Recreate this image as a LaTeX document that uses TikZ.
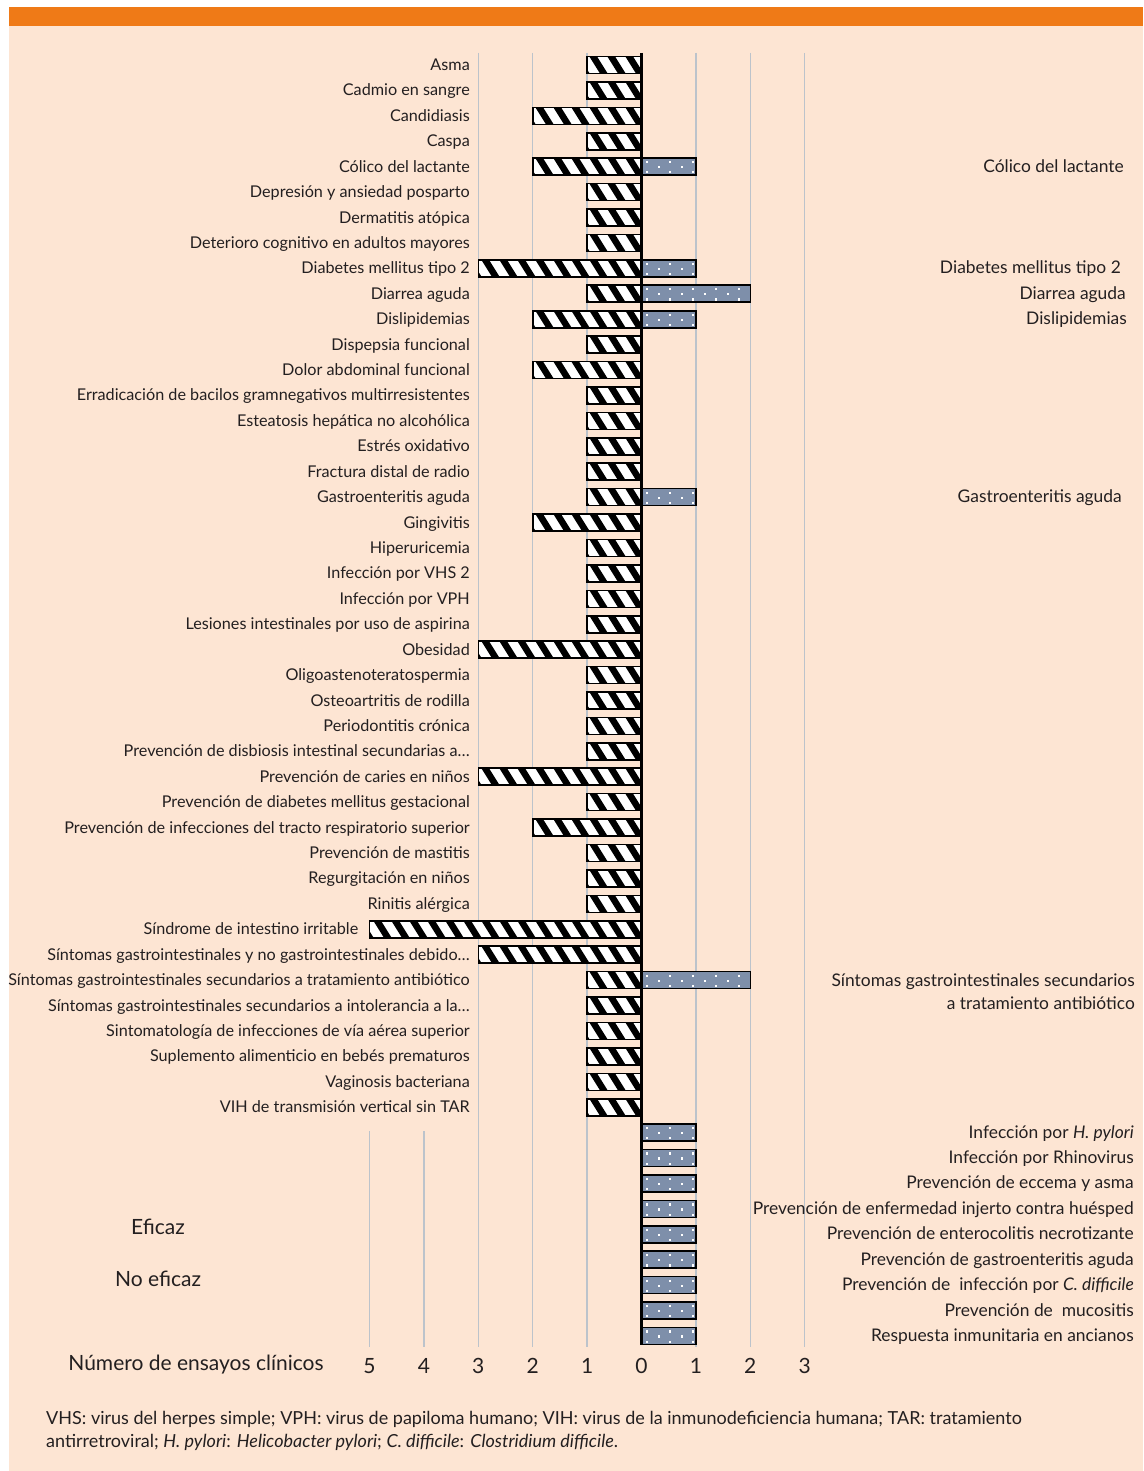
\documentclass[tikz,border=0pt]{standalone}
\usepackage{fontspec}
\setmainfont{Lato}
\definecolor{orangebar}{HTML}{EF7A17}
\definecolor{peach}{HTML}{FDE5D3}
\definecolor{barblue}{HTML}{7E8FAA}
\definecolor{gridc}{HTML}{BCC3CB}
\definecolor{txt}{HTML}{231F20}
\begin{document}
\begin{tikzpicture}[x=1pt,y=-1pt,
  lab/.style={inner sep=0pt, text height=11.5pt, text depth=3.5pt, font=\fontsize{16.2}{20}\selectfont, text=txt},
  rlab/.style={lab, font=\fontsize{17.4}{20}\selectfont},
  big/.style={inner sep=0pt, font=\fontsize{21}{24}\selectfont, text=txt},
  foot/.style={inner sep=0pt, font=\fontsize{18}{22}\selectfont, text=txt, anchor=base west},
  grid line/.style={gridc, line width=1.4pt},
  outline/.style={black, line width=1.6pt}]
\useasboundingbox (0,0) rectangle (1143,1471);
\fill[white] (0,0) rectangle (1143,1471);
\fill[peach] (9,7) rectangle (1143,1471);
\fill[orangebar] (9,7) rectangle (1143,26);
% grid lines
\foreach \g in {1,2,3} {
  \draw[grid line] ({641.5-54.4*\g},53) -- ({641.5-54.4*\g},1347);
  \draw[grid line] ({641.5+54.4*\g},53) -- ({641.5+54.4*\g},1347);
}
\foreach \g in {4,5} {
  \draw[grid line] ({641.5-54.4*\g},1131) -- ({641.5-54.4*\g},1347);
}
% not effective (hatched) bars and left labels
\foreach \i/\v/\t in {
 1/1/Asma,
 2/1/Cadmio en sangre,
 3/2/Candidiasis,
 4/1/Caspa,
 5/2/Cólico del lactante,
 6/1/Depresión y ansiedad posparto,
 7/1/Dermatitis atópica,
 8/1/Deterioro cognitivo en adultos mayores,
 9/3/Diabetes mellitus tipo 2,
 10/1/Diarrea aguda,
 11/2/Dislipidemias,
 12/1/Dispepsia funcional,
 13/2/Dolor abdominal funcional,
 14/1/Erradicación de bacilos gramnegativos multirresistentes,
 15/1/Esteatosis hepática no alcohólica,
 16/1/Estrés oxidativo,
 17/1/Fractura distal de radio,
 18/1/Gastroenteritis aguda,
 19/2/Gingivitis,
 20/1/Hiperuricemia,
 21/1/Infección por VHS 2,
 22/1/Infección por VPH,
 23/1/Lesiones intestinales por uso de aspirina,
 24/3/Obesidad,
 25/1/Oligoastenoteratospermia,
 26/1/Osteoartritis de rodilla,
 27/1/Periodontitis crónica,
 28/1/Prevención de disbiosis intestinal secundarias a…,
 29/3/Prevención de caries en niños,
 30/1/Prevención de diabetes mellitus gestacional,
 31/2/Prevención de infecciones del tracto respiratorio superior,
 32/1/Prevención de mastitis,
 33/1/Regurgitación en niños,
 34/1/Rinitis alérgica,
 35/5/Síndrome de intestino irritable,
 36/3/Síntomas gastrointestinales y no gastrointestinales debido…,
 37/1/Síntomas gastrointestinales secundarios a tratamiento antibiótico,
 38/1/Síntomas gastrointestinales secundarios a intolerancia a la…,
 39/1/Sintomatología de infecciones de vía aérea superior,
 40/1/Suplemento alimenticio en bebés prematuros,
 41/1/Vaginosis bacteriana,
 42/1/VIH de transmisión vertical sin TAR} {
  \pgfmathsetmacro{\yc}{65+25.42*(\i-1)}
  \pgfmathsetmacro{\xl}{641.5-54.4*\v}
  \begin{scope}
    \clip (\xl,\yc-8.5) rectangle (641.5,\yc+8.5);
    \fill[white] (\xl,\yc-8.5) rectangle (641.5,\yc+8.5);
    \foreach \k in {0,...,16} {\draw[line width=6.5pt] ({645-18*\k},\yc-12) -- ++(15,24);}
  \end{scope}
  \draw[outline] (\xl,\yc-8.5) rectangle (641.5,\yc+8.5);
  \pgfmathsetmacro{\lx}{(\v>3) ? (\xl-11) : 470}
  \node[lab, anchor=east] (L\i) at (\lx,\yc+1.5) {\t};
}
% effective (dotted) bars
\foreach \i/\v in {5/1,9/1,10/2,11/1,18/1,37/2,43/1,44/1,45/1,46/1,47/1,48/1,49/1,50/1,51/1} {
  \pgfmathsetmacro{\yc}{65+25.42*(\i-1)}
  \pgfmathsetmacro{\xr}{641.5+54.4*\v}
  \fill[barblue] (641.5,\yc-8.5) rectangle (\xr,\yc+8.5);
  \begin{scope}
    \clip (641.5,\yc-8.5) rectangle (\xr,\yc+8.5);
    \foreach \k in {0,...,5} {
      \fill[white] ({646+23*\k},\yc-5.6) rectangle ++(2.2,2.2);
      \fill[white] ({646+23*\k},\yc+4.6) rectangle ++(2.2,2.2);
      \fill[white] ({657.5+23*\k},\yc-0.6) rectangle ++(2.2,2.2);
    }
  \end{scope}
  \draw[outline] (641.5,\yc-8.5) rectangle (\xr,\yc+8.5);
}
% zero axis
\draw[line width=2.4pt] (641.5,53) -- (641.5,1345);
% right labels
\foreach \i/\xe/\t in {
 5/1124/Cólico del lactante,
 9/1121/Diabetes mellitus tipo 2,
 10/1126/Diarrea aguda,
 11/1127/Dislipidemias,
 18/1122/Gastroenteritis aguda,
 43/1134/{Infección por \textit{H. pylori}},
 44/1134/Infección por Rhinovirus,
 45/1134/Prevención de eccema y asma,
 46/1134/Prevención de enfermedad injerto contra huésped,
 47/1134/Prevención de enterocolitis necrotizante,
 48/1134/Prevención de gastroenteritis aguda,
 49/1134/{Prevención de\ \ infección por \textit{C. difficile}},
 50/1134/{Prevención de\ \ mucositis},
 51/1134/Respuesta inmunitaria en ancianos} {
  \pgfmathsetmacro{\yc}{65+25.42*(\i-1)}
  \node[rlab, anchor=east] (R\i) at (\xe,\yc+1.5) {\t};
}
\node[rlab, anchor=east] (R37a) at (1135,982) {Síntomas gastrointestinales secundarios};
\node[rlab, anchor=east] (R37b) at (1135,1005) {a tratamiento antibiótico};
% legend texts
\node[big] (eficaz) at (158,1227) {Eficaz};
\node[big] (noeficaz) at (158,1279) {No eficaz};
% axis
\node[big] (axtitle) at (196,1365) {Número de ensayos clínicos};
\foreach \n in {1,...,5} {\node[big] (axL\n) at ({641.5-54.4*\n},1366) {\n};}
\node[big] (ax0) at (641.5,1366) {0};
\foreach \n in {1,2,3} {\node[big] (axR\n) at ({641.5+54.4*\n},1366) {\n};}
% footnote
\node[foot] (fn1) at (46,1424) {VHS: virus del herpes simple; VPH: virus de papiloma humano; VIH: virus de la inmunodeficiencia humana; TAR: tratamiento};
\node[foot] (fn2) at (46,1447) {antirretroviral; \textit{H. pylori}: \textit{Helicobacter pylori}; \textit{C. difficile}: \textit{Clostridium difficile}.};
\end{tikzpicture}
\end{document}
